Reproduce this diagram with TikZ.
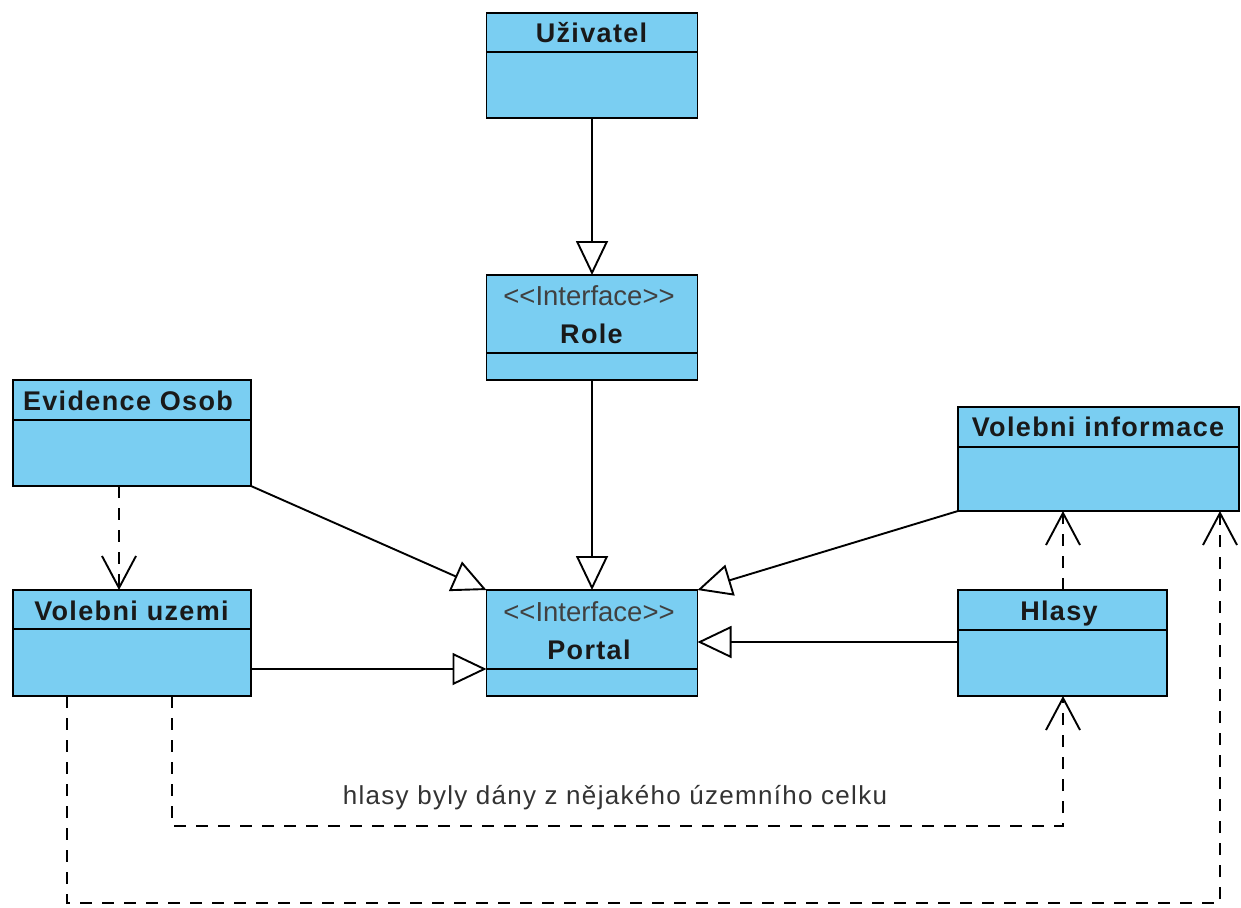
\documentclass[tikz,border=0pt]{standalone}
\usepackage{fontspec}
\setmainfont{Liberation Sans}
\usetikzlibrary{arrows.meta}
\definecolor{clsfill}{RGB}{122,206,242}
\newcommand{\stereotxt}{<\kern0pt<Interface>\kern0pt>}
\begin{document}
\begin{tikzpicture}[x=1pt,y=-1pt,
  cls/.style={draw=black, fill=clsfill, line width=1.9pt, inner sep=0pt, outer sep=0pt},
  title/.style={font=\fontsize{27}{30}\selectfont\bfseries\addfontfeatures{LetterSpace=5}, text=black!90, inner sep=0pt, anchor=base},
  stereo/.style={font=\fontsize{27.5}{30}\selectfont, text=black!75, inner sep=0pt, anchor=base},
  lbl/.style={font=\fontsize{26}{28}\selectfont\addfontfeatures{LetterSpace=5}, text=black!80, inner sep=0pt, anchor=base},
  gen/.style={line width=1.9pt, -{Triangle[length=34pt,width=32pt,fill=white]}},
  dep/.style={line width=1.9pt, dash pattern=on 12pt off 10pt, -{Straight Barb[length=32pt,width=34pt]}},
  divline/.style={line width=1.9pt}]
\useasboundingbox (0,0) rectangle (1241,907);

% class boxes
\node[cls, minimum width=211pt, minimum height=105pt] (uziv) at (592,65.5) {};
\node[cls, minimum width=211pt, minimum height=105pt] (role) at (592,327.5) {};
\node[cls, minimum width=238pt, minimum height=106pt] (evid) at (132,433) {};
\node[cls, minimum width=238pt, minimum height=106pt] (voluz) at (132,643) {};
\node[cls, minimum width=211pt, minimum height=106pt] (portal) at (592,643) {};
\node[cls, minimum width=281pt, minimum height=104pt] (volinfo) at (1098.5,459) {};
\node[cls, minimum width=209pt, minimum height=106pt] (hlasy) at (1062.5,643) {};

% dividers
\draw[divline] (uziv.west |- 0,52) -- (uziv.east |- 0,52);
\draw[divline] (role.west |- 0,353) -- (role.east |- 0,353);
\draw[divline] (evid.west |- 0,420) -- (evid.east |- 0,420);
\draw[divline] (voluz.west |- 0,629) -- (voluz.east |- 0,629);
\draw[divline] (portal.west |- 0,669) -- (portal.east |- 0,669);
\draw[divline] (volinfo.west |- 0,447) -- (volinfo.east |- 0,447);
\draw[divline] (hlasy.west |- 0,630) -- (hlasy.east |- 0,630);

% texts
\node[title] (uzivT) at (591.5,43) {Uživatel};
\node[stereo] (roleS) at (589,305) {\stereotxt};
\node[title] (roleT) at (591.5,343) {Role};
\node[title] (evidT) at (128,410) {Evidence Osob};
\node[title] (voluzT) at (131.5,620) {Volebni uzemi};
\node[stereo] (portalS) at (589,621) {\stereotxt};
\node[title] (portalT) at (589,659) {Portal};
\node[title] (volinfoT) at (1098,436) {Volebni informace};
\node[title] (hlasyT) at (1059,620) {Hlasy};
\node[lbl] (lab) at (615,804) {hlasy byly dány z nějakého územního celku};

% generalizations
\draw[gen] (uziv) -- (role);
\draw[gen] (role) -- (portal);
\draw[gen] (evid.south east) -- (portal.north west);
\draw[gen] (volinfo.south west) -- (portal.north east);
\draw[gen] (voluz.east |- 0,669) -- (portal.west |- 0,669);
\draw[gen] (hlasy.west |- 0,642) -- (portal.east |- 0,642);

% dependencies
\coordinate (b1) at (1063,826);
\coordinate (b2) at (1220,903);
\draw[dep] (evid.south -| 119,0) -- (voluz.north -| 119,0);
\draw[dep] (hlasy.north -| b1) -- (volinfo.south -| b1);
\draw[dep] (voluz.south -| 172,0) |- (b1) -- (hlasy.south -| b1);
\draw[dep] (voluz.south -| 67,0) |- (b2) -- (volinfo.south -| b2);
\end{tikzpicture}
\end{document}
